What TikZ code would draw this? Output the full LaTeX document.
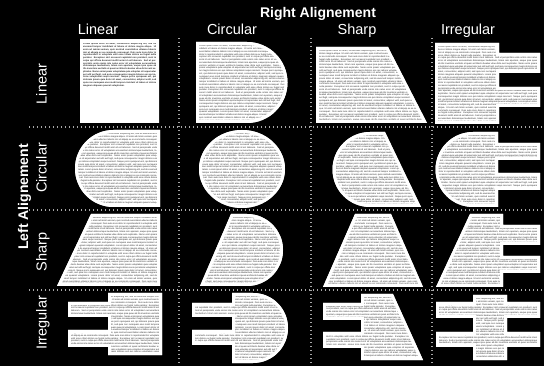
\documentclass[tikz,border=0pt]{standalone}
\usepackage{fontspec}
\setmainfont{Liberation Sans}
\newcommand\lorem{Lorem ipsum dolor sit amet, consectetur adipiscing elit, sed do eiusmod tempor incididunt ut labore et dolore magna aliqua. Ut enim ad minim veniam, quis nostrud exercitation ullamco laboris nisi ut aliquip ex ea commodo consequat. Duis aute irure dolor in reprehenderit in voluptate velit esse cillum dolore eu fugiat nulla pariatur. Excepteur sint occaecat cupidatat non proident, sunt in culpa qui officia deserunt mollit anim id est laborum. Sed ut perspiciatis unde omnis iste natus error sit voluptatem accusantium doloremque laudantium, totam rem aperiam, eaque ipsa quae ab illo inventore veritatis et quasi architecto beatae vitae dicta sunt explicabo. Nemo enim ipsam voluptatem quia voluptas sit aspernatur aut odit aut fugit, sed quia consequuntur magni dolores eos qui ratione voluptatem sequi nesciunt. Neque porro quisquam est, qui dolorem ipsum quia dolor sit amet, consectetur, adipisci velit, sed quia non numquam eius modi tempora incidunt ut labore et dolore magnam aliquam quaerat voluptatem.}
\newcommand\loremmore{\lorem\ \lorem\ \lorem}
% #1 name, #2 path, #3 nw corner, #4 width, #5 text
\newcommand\blk[5]{%
  \fill[white] #2;
  \begin{scope}
    \clip #2;
    \node[txt, text width=#4, anchor=north west] (#1) at #3 {#5};
    \draw[white, line width=6pt] #2;
  \end{scope}}
\tikzset{
  txt/.style={inner sep=0pt, align=justify, text=black!85, font=\fontsize{2.3}{2.75}\selectfont},
  dotline/.style={draw=black!35, line width=1.3pt, dash pattern=on 1.3pt off 2.7pt},
  head/.style={text=white, font=\fontsize{14}{16}\selectfont\bfseries, inner sep=0pt},
  colhead/.style={text=white, font=\fontsize{14.5}{16}\selectfont, inner sep=0pt, anchor=base},
  rowhead/.style={text=white, font=\fontsize{14.5}{16}\selectfont, inner sep=0pt, anchor=base, rotate=90},
}
\begin{document}
\begin{tikzpicture}[x=1pt,y=-1pt]
\fill[black] (0,0) rectangle (544,366);
\useasboundingbox (0,0) rectangle (544,366);
% grid
\coordinate (v1a) at (179,38); \coordinate (v1b) at (179,366);
\coordinate (v2a) at (311,38); \coordinate (v2b) at (311,366);
\coordinate (v3a) at (432,38); \coordinate (v3b) at (432,366);
\coordinate (h1a) at (29,127); \coordinate (h1b) at (544,127);
\coordinate (h2a) at (29,210); \coordinate (h2b) at (544,210);
\coordinate (h3a) at (29,290); \coordinate (h3b) at (544,290);
\draw[dotline] (v1a) -- (v1b);
\draw[dotline] (v2a) -- (v2b);
\draw[dotline] (v3a) -- (v3b);
\draw[dotline] (h1a) -- (h1b);
\draw[dotline] (h2a) -- (h2b);
\draw[dotline] (h3a) -- (h3b);
% headings
\node[head, anchor=base] (ra) at (318,18) {Right Alignement};
\node[colhead] (cl) at (98,34.5) {Linear};
\node[colhead] (cc) at (232,34.5) {Circular};
\node[colhead] (cs) at (357,34.5) {Sharp};
\node[colhead] (ci) at (468,34.5) {Irregular};
\node[head, anchor=base, rotate=90] (la) at (28,197) {Left Alignement};
\node[rowhead] (rl) at (46.5,84) {Linear};
\node[rowhead] (rc) at (46.5,168) {Circular};
\node[rowhead] (rs) at (46.5,252) {Sharp};
\node[rowhead] (ri) at (46.5,323) {Irregular};
% row 1
\blk{t11}{(80,40) rectangle (159,123)}{(83,43)}{73pt}{\bfseries\lorem}
\blk{t12}{(196,42) -- (247,42) arc[start angle=-90,end angle=90,radius=40.5] -- (196,123) -- cycle}{(199,45)}{86pt}{\loremmore}
\blk{t13}{(316,47) -- (388,47) -- (427,123) -- (316,123) -- cycle}{(319,50)}{105pt}{\loremmore}
\blk{t14}{(435,43) -- (499,43) -- (499,53) -- (540,53) -- (540,73) -- (499,73) -- (499,87) -- (540,87) -- (540,107) -- (499,107) -- (499,124) -- (435,124) -- cycle}{(438,46)}{99pt}{\loremmore}
% row 2
\blk{t21}{(160,130) -- (113.5,130) arc[start angle=-90,end angle=-270,radius=38.5] -- (160,207) -- cycle}{(78,133)}{79pt}{\loremmore}
\blk{t22}{(242,169) ellipse[x radius=43,y radius=39]}{(202,133)}{80pt}{\loremmore}
\blk{t23}{(370,132) -- (385,132) -- (421,207) -- (370,207) arc[start angle=90,end angle=270,radius=37.5] -- cycle}{(336,135)}{82pt}{\loremmore}
\blk{t24}{(498,132) -- (498,143) -- (540,143) -- (540,160) -- (498,160) -- (498,173) -- (540,173) -- (540,190) -- (498,190) -- (498,207) -- (473,207) arc[start angle=90,end angle=270,radius=37.5] -- cycle}{(438,135)}{99pt}{\loremmore}
% row 3
\blk{t31}{(91,214) -- (160,214) -- (160,286) -- (57,286) -- cycle}{(60,217)}{97pt}{\loremmore}
\blk{t32}{(231,214) -- (247,214) arc[start angle=-90,end angle=90,radius=36] -- (200,286) -- cycle}{(203,217)}{77pt}{\loremmore}
\blk{t33}{(355,214) -- (391,214) -- (423,287) -- (323,287) -- cycle}{(326,217)}{94pt}{\loremmore}
\blk{t34}{(470,214) -- (503,214) -- (503,225) -- (540,225) -- (540,245) -- (503,245) -- (503,256) -- (540,256) -- (540,273) -- (503,273) -- (503,287) -- (436,287) -- cycle}{(439,217)}{98pt}{\loremmore}
% row 4
\blk{t41}{(108,293) -- (162,293) -- (162,355) -- (108,355) -- (108,347) -- (68,347) -- (68,330) -- (108,330) -- (108,317) -- (68,317) -- (68,302) -- (108,302) -- cycle}{(71,296)}{88pt}{\loremmore}
\blk{t42}{(232,293) -- (253,293) arc[start angle=-90,end angle=90,radius=35] -- (232,363) -- (232,345) -- (192,345) -- (192,330) -- (232,330) -- (232,317) -- (192,317) -- (192,303) -- (232,303) -- cycle}{(195,296)}{90pt}{\loremmore}
\blk{t43}{(361,294) -- (393,294) -- (423,360) -- (361,360) -- (361,348) -- (323,348) -- (323,332) -- (361,332) -- (361,320) -- (323,320) -- (323,303) -- (361,303) -- cycle}{(326,297)}{94pt}{\loremmore}
\blk{t44}{(473,295) -- (507,295) -- (507,302) -- (540,302) -- (540,318) -- (507,318) -- (507,332) -- (540,332) -- (540,347) -- (507,347) -- (507,360) -- (473,360) -- (473,347) -- (436,347) -- (436,332) -- (473,332) -- (473,318) -- (436,318) -- (436,302) -- (473,302) -- cycle}{(439,298)}{98pt}{\loremmore}
\end{tikzpicture}
\end{document}
